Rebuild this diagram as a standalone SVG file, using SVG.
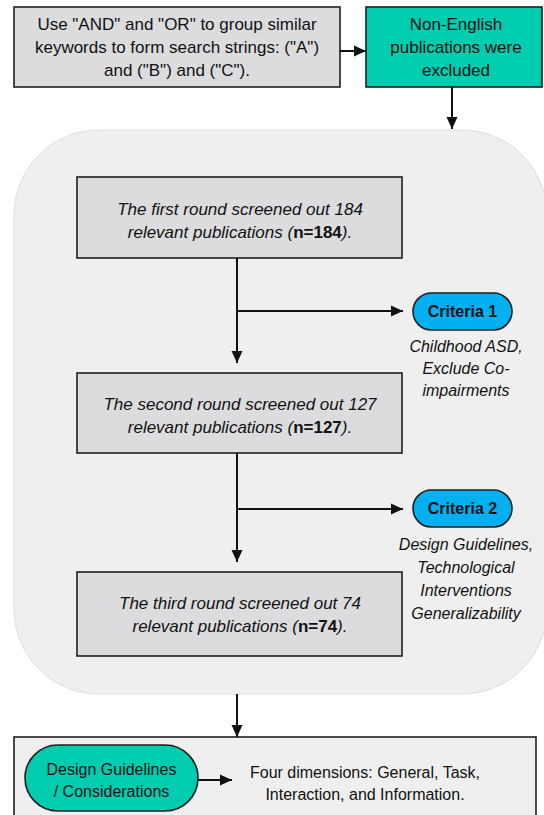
<svg xmlns="http://www.w3.org/2000/svg" width="544" height="815" viewBox="0 0 544 815">
<style>
  .box { fill: #dcdcde; stroke: #1e1e1e; stroke-width: 1.6; }
  .teal { fill: #00cdaf; stroke: #1e1e1e; stroke-width: 1.6; }
  .pill { fill: #00b0f0; stroke: #1e1e1e; stroke-width: 1.6; }
  .t { font-family: "Liberation Sans", Arial, sans-serif; fill: #111; text-anchor: middle; }
  .it { font-style: italic; }
  .b { font-weight: bold; font-style: normal; }
  .ln { stroke: #111; stroke-width: 2; fill: none; }
</style>
<defs>
  <marker id="ah" markerUnits="userSpaceOnUse" markerWidth="12" markerHeight="12" viewBox="0 0 12 12" refX="12" refY="6" orient="auto">
    <path d="M0,0.5 L12,6 L0,11.5 Z" fill="#111"/>
  </marker>
</defs>

<g id="container">
  <rect x="14" y="130" width="533" height="564" rx="85" ry="85" fill="#efefef" stroke="#d6d6d6" stroke-width="0.8"/>
</g>

<g id="search">
  <rect class="box" x="14" y="7" width="326" height="80"/>
  <text class="t" font-size="17" x="177" y="30">Use "AND" and "OR" to group similar</text>
  <text class="t" font-size="17" x="177" y="53">keywords to form search strings: ("A")</text>
  <text class="t" font-size="17" x="177" y="76">and ("B") and ("C").</text>
</g>

<g id="nonenglish">
  <rect class="teal" x="366" y="7" width="176" height="80"/>
  <text class="t" font-size="17" x="456" y="30">Non-English</text>
  <text class="t" font-size="17" x="456" y="53">publications were</text>
  <text class="t" font-size="17" x="456" y="76">excluded</text>
</g>

<g id="round1">
  <rect class="box" x="77" y="177" width="325" height="81"/>
  <text class="t it" font-size="17" x="240" y="215">The first round screened out 184</text>
  <text class="t it" font-size="17" x="240" y="238">relevant publications (<tspan class="b">n=184</tspan>).</text>
</g>

<g id="criteria1">
  <rect class="pill" x="413" y="293" width="99" height="37" rx="18.5" ry="18.5"/>
  <text class="t b" font-size="16" x="462.5" y="317">Criteria 1</text>
  <text class="t it" font-size="16" x="466" y="352">Childhood ASD,</text>
  <text class="t it" font-size="16" x="466" y="374">Exclude Co-</text>
  <text class="t it" font-size="16" x="466" y="396">impairments</text>
</g>

<g id="round2">
  <rect class="box" x="77" y="373" width="325" height="80"/>
  <text class="t it" font-size="17" x="240" y="410">The second round screened out 127</text>
  <text class="t it" font-size="17" x="240" y="433">relevant publications (<tspan class="b">n=127</tspan>).</text>
</g>

<g id="criteria2">
  <rect class="pill" x="413" y="490" width="99" height="37" rx="18.5" ry="18.5"/>
  <text class="t b" font-size="16" x="462.5" y="514">Criteria 2</text>
  <text class="t it" font-size="16" x="466" y="550">Design Guidelines,</text>
  <text class="t it" font-size="16" x="466" y="573">Technological</text>
  <text class="t it" font-size="16" x="466" y="596">Interventions</text>
  <text class="t it" font-size="16" x="466" y="619">Generalizability</text>
</g>

<g id="round3">
  <rect class="box" x="77" y="572" width="325" height="84"/>
  <text class="t it" font-size="17" x="240" y="609">The third round screened out 74</text>
  <text class="t it" font-size="17" x="240" y="632">relevant publications (<tspan class="b">n=74</tspan>).</text>
</g>

<g id="result">
  <rect x="14" y="737" width="522" height="100" fill="#efefef" stroke="#1e1e1e" stroke-width="1.6"/>
</g>

<g id="guidelines">
  <rect class="teal" x="25" y="745" width="173" height="66" rx="33" ry="33"/>
  <text class="t" font-size="16" x="111.5" y="775">Design Guidelines</text>
  <text class="t" font-size="16" x="111.5" y="797">/ Considerations</text>
</g>

<g id="dimensions">
  <text class="t" font-size="16" x="365" y="778">Four dimensions: General, Task,</text>
  <text class="t" font-size="16" x="365" y="800">Interaction, and Information.</text>
</g>

<g id="connectors">
  <line class="ln" x1="340" y1="51" x2="366" y2="51" marker-end="url(#ah)"/>
  <line class="ln" x1="452" y1="87" x2="452" y2="129" marker-end="url(#ah)"/>
  <line class="ln" x1="237" y1="258" x2="237" y2="363" marker-end="url(#ah)"/>
  <line class="ln" x1="237" y1="311" x2="403" y2="311" marker-end="url(#ah)"/>
  <line class="ln" x1="237" y1="453" x2="237" y2="562" marker-end="url(#ah)"/>
  <line class="ln" x1="237" y1="509" x2="403" y2="509" marker-end="url(#ah)"/>
  <line class="ln" x1="237" y1="694" x2="237" y2="737" marker-end="url(#ah)"/>
  <line class="ln" x1="198" y1="780" x2="232" y2="780" marker-end="url(#ah)"/>
</g>
</svg>
